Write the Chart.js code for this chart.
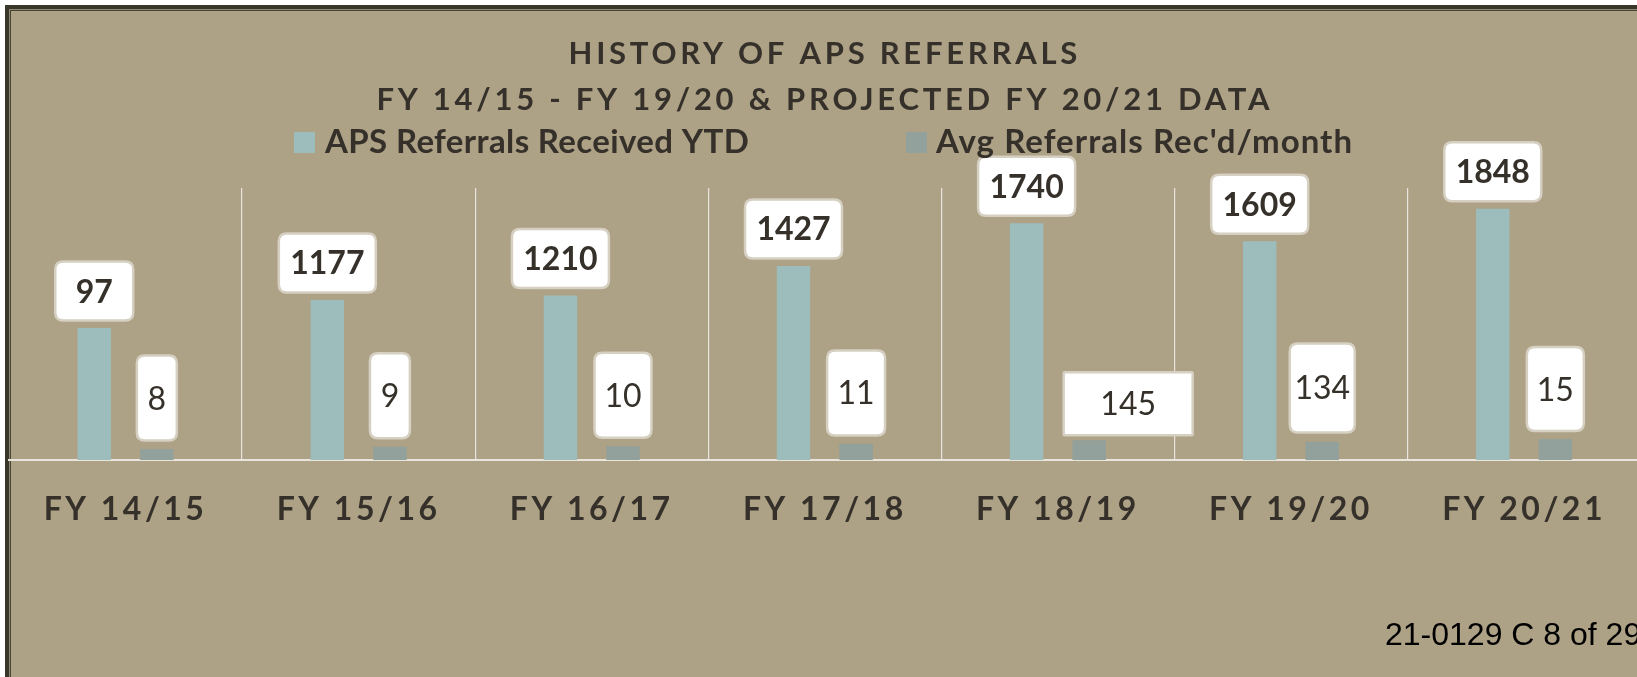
<!DOCTYPE html>
<html><head><meta charset="utf-8">
<script src="https://cdn.jsdelivr.net/npm/chart.js@4.4.1/dist/chart.umd.min.js"></script>
<style>
html,body{margin:0;padding:0;background:#fff;overflow:hidden;width:1637px;height:677px;}
#wrap{position:relative;width:1637px;height:677px;overflow:hidden;}
canvas{position:absolute;left:0;top:0;}
#ref{position:absolute;left:1385px;top:618px;font-family:"Liberation Sans",Arial,sans-serif;font-size:32px;line-height:32px;color:#000;white-space:nowrap;}
</style></head><body>
<div id="wrap"><canvas id="c" width="1648" height="677" style="width:1648px;height:677px"></canvas><div id="ref">21-0129 C 8 of 29</div></div>
<script>
// ---- data ----
const categories = ['FY 14/15','FY 15/16','FY 16/17','FY 17/18','FY 18/19','FY 19/20','FY 20/21'];
const ytdValues = [970, 1177, 1210, 1427, 1740, 1609, 1848];
const ytdLabels = ['97','1177','1210','1427','1740','1609','1848'];
const avgValues = [81, 98, 101, 119, 145, 134, 154];
const avgLabels = ['8','9','10','11','145','134','15'];
const seriesNames = ['APS Referrals Received YTD', "Avg Referrals Rec'd/month"];
const titleLines = ['HISTORY OF APS REFERRALS', 'FY 14/15 - FY 19/20 & PROJECTED FY 20/21 DATA'];

// ---- styles ----
const BG = '#ada186', DARK = '#35312a', TEAL = '#9dbdbd', GREYTEAL = '#92a19b', GRID = '#e9e5dc';
const BOXLINE = '#d6d0c2';
const FONT = 'Lato';
const ytdBoxStyle = [
  {w:78,h:59,r:8,dx:0,gap:7.5},{w:97,h:59,r:8,dx:0,gap:7.5},{w:97,h:59,r:8,dx:0,gap:7.5},
  {w:97,h:59,r:8,dx:0,gap:7.5},{w:97,h:59,r:8,dx:0,gap:7.5},{w:97,h:59,r:8,dx:0,gap:7.5},{w:97,h:59,r:8,dx:0,gap:7.5}
];
const avgBoxStyle = [
  {w:40,h:85,r:8,dx:0,gap:8.4},{w:40,h:85,r:8,dx:0,gap:8.4},{w:57,h:85,r:8,dx:0,gap:8.4},
  {w:58,h:85,r:8,dx:0,gap:8.4},{w:129,h:63,r:1,dx:39,gap:5},{w:65,h:89,r:8,dx:0,gap:9.4},{w:57,h:84,r:8,dx:0,gap:8}
];
const legendStyle = {font: 33, sq: 21, items: [{x: 294, textX: 325, width: 424}, {x: 906, textX: 936, width: 417}], baseY: 153};

function roundRect(ctx, x, y, w, h, r) {
  ctx.beginPath();
  ctx.moveTo(x + r, y);
  ctx.lineTo(x + w - r, y); ctx.quadraticCurveTo(x + w, y, x + w, y + r);
  ctx.lineTo(x + w, y + h - r); ctx.quadraticCurveTo(x + w, y + h, x + w - r, y + h);
  ctx.lineTo(x + r, y + h); ctx.quadraticCurveTo(x, y + h, x, y + h - r);
  ctx.lineTo(x, y + r); ctx.quadraticCurveTo(x, y, x + r, y);
  ctx.closePath();
}

const framePlugin = {
  id: 'frame',
  beforeDraw(chart) {
    const ctx = chart.ctx, W = chart.width, H = chart.height;
    ctx.save();
    ctx.letterSpacing = '0px';
    ctx.fillStyle = '#ffffff'; ctx.fillRect(0, 0, W, H);
    ctx.fillStyle = BG; ctx.fillRect(5, 5, W + 20, H + 20);
    ctx.fillStyle = '#3a3628'; ctx.fillRect(5, 5, W + 20, 4); ctx.fillRect(5, 5, 4, H + 20);
    ctx.fillStyle = '#8d8673'; ctx.fillRect(9, 9, W + 20, 1); ctx.fillRect(9, 9, 1, H + 20);
    ctx.fillStyle = '#4a4536'; ctx.fillRect(10, 10, W + 20, 1); ctx.fillRect(10, 10, 1, H + 20);
    ctx.restore();
    const wrap = (obj, name, ls) => {
      if (!obj || obj['_ls_' + name]) return;
      const orig = obj[name].bind(obj);
      obj[name] = function(a) { const c = chart.ctx; const p = c.letterSpacing; c.letterSpacing = ls; orig(a); c.letterSpacing = p || '0px'; };
      obj['_ls_' + name] = true;
    };
    wrap(chart.titleBlock, 'draw', '3.75px');
    wrap(chart.scales.x, 'drawLabels', '3.5px');
  }
};

const labelPlugin = {
  id: 'boxLabels',
  afterDatasetsDraw(chart) {
    const ctx = chart.ctx;
    const sets = [
      {labels: ytdLabels, style: ytdBoxStyle, weight: 'bold'},
      {labels: avgLabels, style: avgBoxStyle, weight: 'normal'}
    ];
    ctx.save();
    ctx.letterSpacing = '0px';
    sets.forEach((s, di) => {
      const meta = chart.getDatasetMeta(di);
      meta.data.forEach((el, i) => {
        const st = s.style[i];
        const cx = el.x + st.dx;
        const bottom = el.y - st.gap;
        const x = cx - st.w / 2, y = bottom - st.h;
        roundRect(ctx, x, y, st.w, st.h, st.r);
        ctx.fillStyle = '#ffffff'; ctx.fill();
        ctx.lineWidth = 2.5; ctx.strokeStyle = BOXLINE; ctx.stroke();
        ctx.fillStyle = DARK;
        ctx.font = s.weight + ' 32px ' + FONT;
        ctx.textAlign = 'center'; ctx.textBaseline = 'alphabetic';
        ctx.fillText(s.labels[i], cx, y + st.h / 2 + 32 * 0.36);
      });
    });
    ctx.restore();
  },
  afterDraw(chart) {
    const ctx = chart.ctx;
    const L = legendStyle;
    const colors = [TEAL, GREYTEAL];
    ctx.save();
    ctx.font = 'bold ' + L.font + 'px ' + FONT;
    seriesNames.forEach((n, i) => {
      const it = L.items[i];
      ctx.letterSpacing = '0px';
      const nat = ctx.measureText(n).width;
      const ls = (it.width - nat) / n.length;
      ctx.fillStyle = colors[i];
      ctx.fillRect(it.x, L.baseY - L.sq, L.sq, L.sq);
      ctx.letterSpacing = ls.toFixed(2) + 'px';
      ctx.fillStyle = DARK; ctx.textAlign = 'left'; ctx.textBaseline = 'alphabetic';
      ctx.fillText(n, it.textX, L.baseY);
    });
    ctx.letterSpacing = '0px';
    ctx.restore();
  }
};

new Chart(document.getElementById('c'), {
  type: 'bar',
  data: {
    labels: categories,
    datasets: [
      {label: seriesNames[0], data: ytdValues, backgroundColor: TEAL, borderWidth: 0, categoryPercentage: 0.537, barPercentage: 0.534},
      {label: seriesNames[1], data: avgValues, backgroundColor: GREYTEAL, borderWidth: 0, categoryPercentage: 0.537, barPercentage: 0.534}
    ]
  },
  options: {
    responsive: false, animation: false, devicePixelRatio: 1,
    layout: {padding: {left: 9, right: 7.4, top: 0, bottom: 118.6}},
    plugins: {
      legend: {display: false},
      tooltip: {enabled: false},
      title: {display: true, text: titleLines, color: DARK,
        font: {family: FONT, size: 31, weight: 'bold', lineHeight: '46px'},
        padding: {top: 31, bottom: 65}}
    },
    scales: {
      x: {
        grid: {offset: true, drawTicks: false, lineWidth: 1.2, color: c => (c.index === 0 ? 'rgba(0,0,0,0)' : GRID)},
        border: {display: true, color: GRID, width: 2},
        ticks: {padding: 30, color: DARK, font: {family: FONT, size: 32, weight: 'bold', lineHeight: 1.2}}
      },
      y: {display: false, min: 0, max: 2000}
    }
  },
  plugins: [framePlugin, labelPlugin]
});
</script>
</body></html>
